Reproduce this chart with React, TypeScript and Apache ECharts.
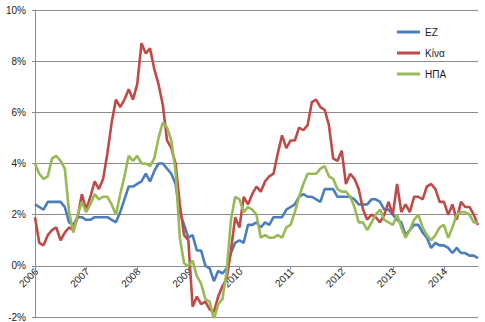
import React, { useEffect, useRef } from "react";
import * as echarts from "echarts";

const years = ["2006", "2007", "2008", "2009", "2010", "2011", "2012", "2013", "2014"];
const monthsInLastYear = 9;

const seriesNames = ["EZ", "Κίνα", "ΗΠΑ"];
const seriesColors = ["#4A7EBB", "#BE4B48", "#98B954"];

// Eurozone inflation (% y/y), Jan 2006 – Sep 2014
const ez = [
  2.4, 2.3, 2.2, 2.5, 2.5, 2.5, 2.5, 2.3, 1.7, 1.6, 1.9, 1.9,
  1.8, 1.8, 1.9, 1.9, 1.9, 1.9, 1.8, 1.7, 2.1, 2.6, 3.1, 3.1,
  3.2, 3.3, 3.6, 3.3, 3.7, 4.0, 4.0, 3.8, 3.6, 3.2, 2.1, 1.6,
  1.1, 1.2, 0.6, 0.6, 0.0, -0.1, -0.6, -0.2, -0.3, -0.1, 0.5, 0.9,
  1.0, 0.9, 1.6, 1.6, 1.7, 1.5, 1.7, 1.6, 1.9, 1.9, 1.9, 2.2,
  2.3, 2.4, 2.7, 2.8, 2.7, 2.7, 2.6, 2.5, 3.0, 3.0, 3.0, 2.7,
  2.7, 2.7, 2.7, 2.6, 2.4, 2.4, 2.4, 2.6, 2.6, 2.5, 2.2, 2.2,
  2.0, 1.8, 1.7, 1.2, 1.4, 1.6, 1.6, 1.3, 1.1, 0.7, 0.9, 0.8,
  0.8, 0.7, 0.5, 0.7, 0.5, 0.5, 0.4, 0.4, 0.3,
];

// China
const china = [
  1.9, 0.9, 0.8, 1.2, 1.4, 1.5, 1.0, 1.3, 1.5, 1.4, 1.9, 2.8,
  2.2, 2.7, 3.3, 3.0, 3.4, 4.4, 5.6, 6.5, 6.2, 6.5, 6.9, 6.5,
  7.1, 8.7, 8.3, 8.5, 7.7, 7.1, 6.3, 4.9, 4.6, 4.0, 2.4, 1.2,
  1.0, -1.6, -1.2, -1.5, -1.4, -1.7, -1.8, -1.2, -0.8, -0.5, 0.6, 1.9,
  1.5, 2.7, 2.4, 2.8, 3.1, 2.9, 3.3, 3.5, 3.6, 4.4, 5.1, 4.6,
  4.9, 4.9, 5.4, 5.3, 5.5, 6.4, 6.5, 6.2, 6.1, 5.5, 4.2, 4.1,
  4.5, 3.2, 3.6, 3.4, 3.0, 2.2, 1.8, 2.0, 1.9, 1.7, 2.0, 2.5,
  2.0, 3.2, 2.1, 2.4, 2.1, 2.7, 2.7, 2.6, 3.1, 3.2, 3.0, 2.5,
  2.5, 2.0, 2.4, 1.8, 2.5, 2.3, 2.3, 2.0, 1.6,
];

// USA
const usa = [
  4.0, 3.6, 3.4, 3.5, 4.2, 4.3, 4.1, 3.8, 2.1, 1.3, 2.0, 2.5,
  2.1, 2.4, 2.8, 2.6, 2.7, 2.7, 2.4, 2.0, 2.8, 3.5, 4.3, 4.1,
  4.3, 4.0, 4.0, 3.9, 4.2, 5.0, 5.6, 5.4, 4.9, 3.7, 1.1, 0.1,
  0.0, 0.2, -0.4, -0.7, -1.3, -1.4, -2.1, -1.5, -1.3, -0.2, 1.8, 2.7,
  2.6, 2.1, 2.3, 2.2, 2.0, 1.1, 1.2, 1.1, 1.1, 1.2, 1.1, 1.5,
  1.6, 2.1, 2.7, 3.2, 3.6, 3.6, 3.6, 3.8, 3.9, 3.5, 3.4, 3.0,
  2.9, 2.9, 2.7, 2.3, 1.7, 1.7, 1.4, 1.7, 2.0, 2.2, 1.8, 1.7,
  1.6, 2.0, 1.5, 1.1, 1.4, 1.8, 2.0, 1.5, 1.2, 1.0, 1.2, 1.5,
  1.6, 1.1, 1.5, 2.0, 2.1, 2.1, 2.0, 1.7, 1.7,
];

const yMin = -2;
const yMax = 10;
const yStep = 2;

const categories: string[] = [];
years.forEach((y, i) => {
  const n = i === years.length - 1 ? monthsInLastYear : 12;
  for (let m = 1; m <= n; m++) categories.push(`${y}-${String(m).padStart(2, "0")}`);
});

const seriesData = [ez, china, usa];

const W = 485;
const H = 322;
const gridTop = 10;
const gridBottom = 5;

export default function App() {
  const ref = useRef<HTMLDivElement>(null);
  useEffect(() => {
    if (!ref.current) return;
    const chart = echarts.init(ref.current, undefined, { renderer: "svg" });
    const font = "'Liberation Sans', Arial, sans-serif";
    const grey = "#8C8C8C";
    const gridH = H - gridTop - gridBottom;
    const zeroOffset = -gridH * (0 - yMin) / (yMax - yMin);
    chart.setOption({
      animation: false,
      textStyle: { fontFamily: font },
      grid: { left: 35, right: 7, top: gridTop, bottom: gridBottom, containLabel: false, outerBoundsMode: "none" },
      legend: {
        orient: "vertical",
        left: 397,
        top: 26,
        padding: 0,
        icon: "rect",
        itemWidth: 23,
        itemHeight: 3,
        itemGap: 9,
        data: seriesNames,
        textStyle: { fontSize: 10, color: "#222", fontFamily: font, lineHeight: 12 },
      },
      xAxis: {
        type: "category",
        data: categories,
        boundaryGap: false,
        offset: zeroOffset,
        axisLine: { onZero: false, lineStyle: { color: grey, width: 1 } },
        axisTick: { show: true, interval: 11, length: 4, lineStyle: { color: grey } },
        axisLabel: { show: false },
        splitLine: { show: false },
      },
      yAxis: {
        type: "value",
        min: yMin,
        max: yMax,
        interval: yStep,
        axisLine: { show: true, lineStyle: { color: grey, width: 1 } },
        axisTick: { show: true, length: 3, lineStyle: { color: grey } },
        axisLabel: { formatter: "{value}%", fontSize: 10, color: "#222", margin: 9, fontFamily: font },
        splitLine: { show: true, lineStyle: { color: grey, width: 1 } },
      },
      series: seriesNames.map((name, i) => ({
        name,
        type: "line",
        data: seriesData[i],
        symbol: "none",
        smooth: false,
        lineStyle: { width: 2.6, color: seriesColors[i] },
        itemStyle: { color: seriesColors[i] },
      })),
    });

    // Rotated year labels placed at the year ticks on the zero line
    const yearLabels = years.map((y, i) => {
      const p = chart.convertToPixel({ xAxisIndex: 0, yAxisIndex: 0 }, [i * 12, 0]) as number[];
      return {
        type: "text",
        x: p[0] + 1.5,
        y: p[1] + 4,
        rotation: Math.PI / 4,
        silent: true,
        style: {
          text: y,
          align: "right",
          verticalAlign: "middle",
          fontSize: 10,
          fontFamily: font,
          fill: "#222",
        },
      };
    });
    chart.setOption({ graphic: yearLabels });
    return () => chart.dispose();
  }, []);
  return <div ref={ref} style={{ width: W, height: H, position: "absolute", left: 0, top: 0 }} />;
}
